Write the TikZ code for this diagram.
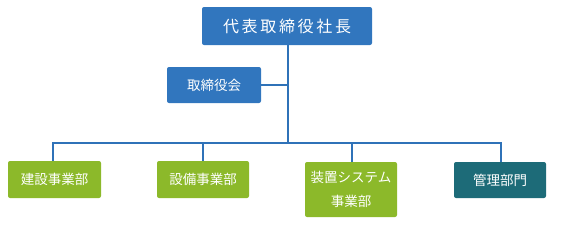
\documentclass[tikz,border=0pt]{standalone}
\usepackage{fontspec}
\setmainfont{Noto Sans CJK JP}
\begin{document}
\begin{tikzpicture}[x=1pt,y=-1pt,
  box/.style={rounded corners=2pt,text=white,inner sep=0pt,align=center},
  conn/.style={draw=lineblue,line width=1.7pt}]
\definecolor{topblue}{HTML}{3176BE}
\definecolor{lineblue}{HTML}{2F72B8}
\definecolor{boxgreen}{HTML}{8CB92A}
\definecolor{boxteal}{HTML}{1D6B78}
\useasboundingbox (0,0) rectangle (577,226);
\node[box,fill=topblue,minimum width=170pt,minimum height=38pt,font=\fontsize{16}{18}\selectfont] (ceo) at (287,26) {代\,表\,取\,締\,役\,社\,長};
\node[box,fill=topblue,minimum width=94pt,minimum height=36pt,font=\fontsize{13.5}{16}\selectfont] (board) at (214,85) {取締役会};
\node[box,fill=boxgreen,minimum width=93pt,minimum height=37pt,font=\fontsize{13.5}{16}\selectfont] (d1) at (54.5,179.5) {建設事業部};
\node[box,fill=boxgreen,minimum width=92pt,minimum height=37pt,font=\fontsize{13.5}{16}\selectfont] (d2) at (203,179.5) {設備事業部};
\node[box,fill=boxgreen,minimum width=92pt,minimum height=55pt,font=\fontsize{13.5}{16}\selectfont,align=center] (d3) at (351,189.5) {装置システム\\[8pt]事業部};
\node[box,fill=boxteal,minimum width=92pt,minimum height=36pt,font=\fontsize{13.5}{16}\selectfont] (d4) at (500,180) {管理部門};
\coordinate (bus) at (288,143);
\draw[conn] (ceo.south -| bus) -- (bus);
\draw[conn] (board.east) -- (board.east -| bus);
\draw[conn] (d1.north -| 53,0) |- (bus) -| (d4.north -| 501,0);
\draw[conn] (d2.north -| 203,0) -- (203,143);
\draw[conn] (d3.north -| 352,0) -- (352,143);
\end{tikzpicture}
\end{document}
